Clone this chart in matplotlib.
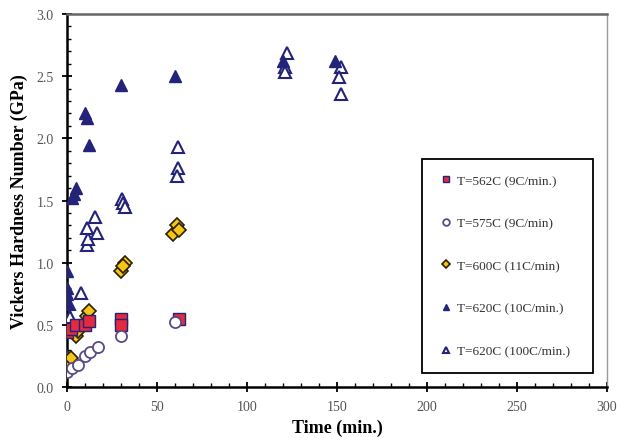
import matplotlib.pyplot as plt
from matplotlib.ticker import MultipleLocator

# T=562C (9C/min.)
t_562 = [0, 2, 5, 10, 12, 30, 30, 62]
h_562 = [0.44, 0.47, 0.50, 0.50, 0.53, 0.55, 0.50, 0.55]

# T=575C (9C/min)
t_575 = [0, 3, 6, 10, 13, 17, 30, 60]
h_575 = [0.12, 0.15, 0.18, 0.25, 0.28, 0.32, 0.41, 0.52]

# T=600C (11C/min)
t_600 = [0, 0, 2, 5, 6, 11, 12, 30, 32, 31, 59, 61, 62]
h_600 = [0.15, 0.18, 0.23, 0.41, 0.45, 0.57, 0.61, 0.93, 1.00, 0.97, 1.23, 1.30, 1.26]

# T=620C (10C/min.)
t_620a = [0, 0, 0, 0, 3, 5, 4, 10, 11, 12, 30, 60, 120, 149]
h_620a = [0.93, 0.80, 0.75, 0.68, 1.52, 1.60, 1.55, 2.20, 2.16, 1.95, 2.43, 2.50, 2.62, 2.62]

# T=620C (100C/min.)
t_620b = [0, 1, 1.5, 8, 11, 11.5, 11, 15.5, 16.5, 30.5, 31, 32, 61.5, 61.5, 61,
          122, 121, 121, 152, 151, 152]
h_620b = [0.25, 0.67, 0.56, 0.76, 1.14, 1.19, 1.28, 1.37, 1.24, 1.51, 1.48, 1.45, 1.93, 1.76, 1.70,
          2.69, 2.57, 2.53, 2.57, 2.49, 2.36]

plt.rcParams['font.family'] = ['Liberation Serif', 'DejaVu Serif']

fig = plt.figure(figsize=(6.17, 4.39), dpi=100)
ax = fig.add_axes([0.1086, 0.1162, 0.8752, 0.8496])

navy = '#23237a'
ms = 8
ax.plot(t_620b, h_620b, '^', ms=ms, mfc='white', mec=navy, mew=1.5, ls='none',
        label='T=620C (100C/min.)', zorder=3)
ax.plot(t_620a, h_620a, '^', ms=ms, mfc=navy, mec=navy, mew=1, ls='none',
        label='T=620C (10C/min.)', zorder=4)
ax.plot(t_600, h_600, 'D', ms=7, mfc='#f7c519', mec='#2a2000', mew=1.2, ls='none',
        label='T=600C (11C/min)', zorder=5)
ax.plot(t_562, h_562, 's', ms=ms, mfc='#e42a3c', mec=navy, mew=1, ls='none',
        label='T=562C (9C/min.)', zorder=5)
ax.plot(t_575, h_575, 'o', ms=ms, mfc='white', mec='#5a4a86', mew=1.3, ls='none',
        label='T=575C (9C/min)', zorder=6)

ax.set_xlim(0, 300)
ax.set_ylim(0, 3.0)
ax.xaxis.set_major_locator(MultipleLocator(50))
ax.xaxis.set_minor_locator(MultipleLocator(10))
ax.yaxis.set_major_locator(MultipleLocator(0.5))
ax.yaxis.set_minor_locator(MultipleLocator(0.1))
ax.yaxis.set_major_formatter(plt.FuncFormatter(lambda v, p: '%.1f' % v))
ax.tick_params(which='major', direction='inout', length=7, width=1.3,
               labelsize=10, labelcolor='#555555', pad=6)
ax.tick_params(which='minor', direction='in', length=3, width=1)
ax.tick_params(top=False, right=False)

ax.spines['left'].set_linewidth(1.8)
ax.spines['bottom'].set_linewidth(1.8)
ax.spines['top'].set_color('#666666')
ax.spines['top'].set_linewidth(1.8)
ax.spines['right'].set_color('#999999')
ax.spines['right'].set_linewidth(1.0)

ax.set_xlabel('Time (min.)', fontsize=13, fontweight='bold', labelpad=4)
ax.set_ylabel('Vickers Hardness Number (GPa)', fontsize=13, fontweight='bold', labelpad=6)

handles, labels = ax.get_legend_handles_labels()
order = [3, 4, 2, 1, 0]
leg = ax.legend([handles[i] for i in order], [labels[i] for i in order],
                loc='lower left', bbox_to_anchor=(0.657, 0.0375, 0.317, 0.58),
                mode='expand', borderaxespad=0, fontsize=9.5, markerscale=0.6,
                handlelength=1.2, handletextpad=0.3, labelspacing=2.3, borderpad=1.2,
                fancybox=False, edgecolor='black', framealpha=1)
leg.get_frame().set_linewidth(1.3)
for txt in leg.get_texts():
    txt.set_color('#333333')
leg._legend_box.align = 'left'

fig.savefig('out.png', dpi=100)
